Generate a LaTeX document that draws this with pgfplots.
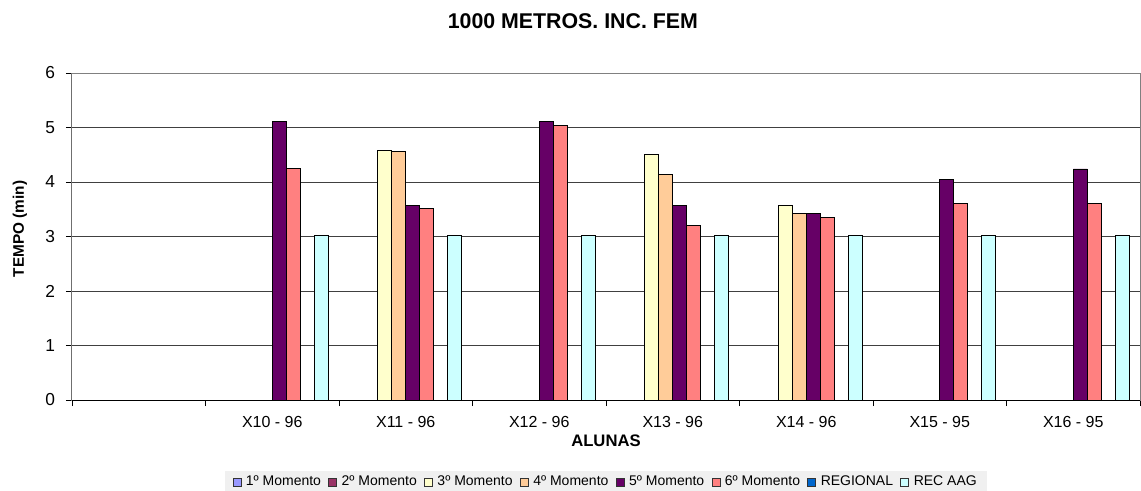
\documentclass[border=0pt]{standalone}
\usepackage{pgfplots}
\pgfplotsset{compat=1.18}
\usepackage{fontspec}
\setmainfont{Liberation Sans}
\definecolor{cA}{HTML}{9999FF}
\definecolor{cB}{HTML}{993366}
\definecolor{cC}{HTML}{FFFFCC}
\definecolor{cD}{HTML}{FFCC99}
\definecolor{cE}{HTML}{660066}
\definecolor{cF}{HTML}{FF8080}
\definecolor{cG}{HTML}{0066CC}
\definecolor{cH}{HTML}{CCFFFF}
\definecolor{legbg}{HTML}{F0F0F0}
\pgfplotsset{sqlegend/.style={legend image code/.code={\draw[##1,draw=black!80,line width=0.5pt] (0pt,-3pt) rectangle (6pt,3pt);}}}
\begin{document}
\begin{tikzpicture}
\useasboundingbox (0,0) rectangle (855.75pt,367.5pt);
\begin{axis}[
  at={(54pt,67.5pt)}, anchor=south west,
  scale only axis, width=801pt, height=245.25pt,
  xmin=-0.5, xmax=7.5, ymin=0, ymax=6,
  ytick={0,1,...,6},
  xtick={-0.5,0.5,...,7.5},
  x tick label as interval,
  xticklabels={,X10 - 96,X11 - 96,X12 - 96,X13 - 96,X14 - 96,X15 - 95,X16 - 95},
  tick align=outside, tick pos=left,
  major tick length=4.5pt,
  tick style={draw=black, line width=0.6pt},
  axis line style={draw=gray, line width=0.75pt},
  ymajorgrids, grid style={draw=black!75, line width=0.6pt},
  /pgf/number format/assume math mode=true,
  xticklabel style={font=\fontsize{12}{14}\selectfont, anchor=base, inner sep=0pt, yshift=-15.75pt},
  yticklabel style={font=\fontsize{13}{15}\selectfont, anchor=east, inner ysep=0pt, inner xsep=8pt},
  title={\textbf{1000 METROS. INC. FEM}},
  title style={font=\fontsize{16}{18}\selectfont, at={(axis description cs:0.469,1.1345)}, anchor=center},
  xlabel={\textbf{ALUNAS}},
  xlabel style={font=\fontsize{12.5}{14}\selectfont, at={(axis description cs:0.5,-0.1254)}, anchor=center},
  ylabel={\textbf{TEMPO (min)}},
  ylabel style={font=\fontsize{11.5}{13}\selectfont, at={(axis description cs:-0.0487,0.523)}, anchor=center, rotate=0},
  legend columns=8,
  legend style={at={(axis description cs:0.5,-0.2508)}, anchor=center, fill=legbg, draw=none,
    font=\fontsize{10.5}{12}\selectfont, inner xsep=6pt, inner ysep=2pt,
    /tikz/every odd column/.append style={column sep=1.5pt},
    /tikz/every even column/.append style={column sep=3.5pt}},
  legend cell align=left,
]
\addlegendimage{sqlegend, fill=cA}
\addlegendentry{1º Momento}
\addlegendimage{sqlegend, fill=cB}
\addlegendentry{2º Momento}
\addplot[ybar, bar width=10.5pt, bar shift=-15.75pt, fill=cC, draw=black, line width=0.6pt, sqlegend]
  coordinates {(2,4.58) (4,4.51) (5,3.57)};
\addlegendentry{3º Momento}
\addplot[ybar, bar width=10.5pt, bar shift=-5.25pt, fill=cD, draw=black, line width=0.6pt, sqlegend]
  coordinates {(2,4.56) (4,4.14) (5,3.43)};
\addlegendentry{4º Momento}
\addplot[ybar, bar width=10.5pt, bar shift=5.25pt, fill=cE, draw=black, line width=0.6pt, sqlegend]
  coordinates {(1,5.11) (2,3.57) (3,5.11) (4,3.57) (5,3.43) (6,4.04) (7,4.24)};
\addlegendentry{5º Momento}
\addplot[ybar, bar width=10.5pt, bar shift=15.75pt, fill=cF, draw=black, line width=0.6pt, sqlegend]
  coordinates {(1,4.25) (2,3.51) (3,5.03) (4,3.21) (5,3.35) (6,3.60) (7,3.60)};
\addlegendentry{6º Momento}
\addlegendimage{sqlegend, fill=cG}
\addlegendentry{REGIONAL}
\addplot[ybar, bar width=10.5pt, bar shift=36.75pt, fill=cH, draw=black, line width=0.6pt, sqlegend]
  coordinates {(1,3.02) (2,3.02) (3,3.02) (4,3.02) (5,3.02) (6,3.02) (7,3.02)};
\addlegendentry{REC AAG}
\draw[black, line width=0.75pt] (rel axis cs:0,1) -- (rel axis cs:0,0) -- (rel axis cs:1,0);
\end{axis}
\end{tikzpicture}
\end{document}
